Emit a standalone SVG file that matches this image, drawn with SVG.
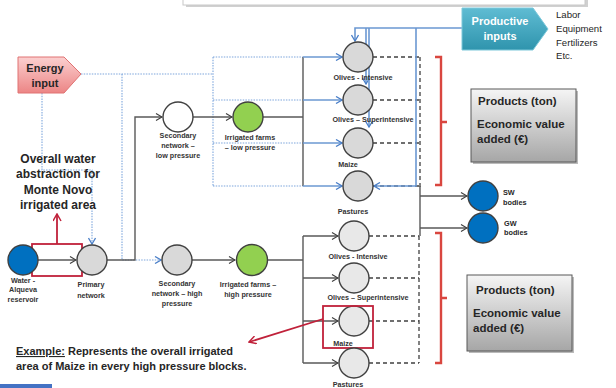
<svg xmlns="http://www.w3.org/2000/svg" width="616" height="388" viewBox="0 0 616 388">
<defs>
<style>
.t{font-family:"Liberation Sans",Arial,sans-serif;fill:#262626}
.lb{font-size:7.2px;font-weight:bold;fill:#333;text-anchor:middle}
.big{font-size:12px;font-weight:bold;text-anchor:middle}
.prod{font-size:11.5px;font-weight:bold}
.g{fill:none;stroke:#595959;stroke-width:1.4}
.gd{fill:none;stroke:#404040;stroke-width:1.3;stroke-dasharray:4 3}
.bd{fill:none;stroke:#7ea6dc;stroke-width:1.1;stroke-dasharray:1.5 1.2}
.bs{fill:none;stroke:#6b98d2;stroke-width:1.6}
.red{fill:none;stroke:#c0213a;stroke-width:1.8}
.br{fill:none;stroke:#d9463f;stroke-width:2.4}
.c{stroke:#404040;stroke-width:1.4}
</style>
<marker id="ag" markerWidth="8" markerHeight="8" refX="7" refY="4" orient="auto" markerUnits="userSpaceOnUse"><path d="M1,0.5 L7,4 L1,7.5" fill="none" stroke="#404040" stroke-width="1.2"/></marker>
<marker id="ab" markerWidth="8" markerHeight="8" refX="7" refY="4" orient="auto" markerUnits="userSpaceOnUse"><path d="M1,0.5 L7,4 L1,7.5" fill="none" stroke="#4a7fc8" stroke-width="1.3"/></marker>
<marker id="ar" markerWidth="9" markerHeight="9" refX="8" refY="4.5" orient="auto" markerUnits="userSpaceOnUse"><path d="M1,0.5 L8,4.5 L1,8.5" fill="none" stroke="#c0213a" stroke-width="1.5"/></marker>
<linearGradient id="gp" x1="0" y1="0" x2="0" y2="1"><stop offset="0" stop-color="#fbd0d0"/><stop offset="1" stop-color="#ec8585"/></linearGradient>
<linearGradient id="gt" x1="0" y1="0" x2="0" y2="1"><stop offset="0" stop-color="#5fbcd3"/><stop offset="1" stop-color="#2f94ad"/></linearGradient>
<linearGradient id="gg" x1="0" y1="0" x2="0" y2="1"><stop offset="0" stop-color="#f5f5f5"/><stop offset="1" stop-color="#a6a6a6"/></linearGradient>
</defs>
<rect width="616" height="388" fill="#fff"/>

<g id="topbox">
<rect x="186" y="-8" width="402" height="15" fill="#b0b0b0" opacity="0.6"/>
<rect x="183" y="-10" width="402" height="15" fill="#fff" stroke="#c8c8c8" stroke-width="1"/>
</g>

<g id="connectors">
<path class="bd" d="M81,74 H213 M213,57 V186 M213,57 H303 M213,100 H303 M213,143 H303 M213,186 H303"/>
<path class="bd" d="M122,74 V260 H161" marker-end="url(#ab)"/>
<path class="bd" d="M42,93 V170 H92 V244" marker-end="url(#ab)"/>
<path class="g" d="M38,260 H76" marker-end="url(#ag)"/>
<path class="g" d="M107,260 H135 V117 H162" marker-end="url(#ag)"/>
<path class="g" d="M193,117 H232" marker-end="url(#ag)"/>
<path class="g" d="M192,260 H235" marker-end="url(#ag)"/>
<path class="g" d="M263,117 H303 M303,57 V186"/>
<path class="g" d="M267,260 H303 M303,236 V363"/>
<path class="bs" d="M303,57 H342" marker-end="url(#ab)" stroke="#7a95b8"/>
<path class="bs" d="M303,100 H342" marker-end="url(#ab)" stroke="#7a95b8"/>
<path class="bs" d="M303,143 H342" marker-end="url(#ab)" stroke="#7a95b8"/>
<path class="bs" d="M303,186 H342" marker-end="url(#ab)" stroke="#7a95b8"/>
<path class="g" d="M303,236 H338" marker-end="url(#ag)"/>
<path class="g" d="M303,278 H338" marker-end="url(#ag)"/>
<path class="g" d="M303,321 H338" marker-end="url(#ag)"/>
<path class="g" d="M303,363 H338" marker-end="url(#ag)"/>
<path class="gd" d="M373,57 H420 M373,100 H420 M373,143 H420 M373,186 H420 M420,57 V190"/>
<path class="gd" d="M369,236 H419 M369,278 H419 M369,321 H419 M369,363 H419 M419,236 V363"/>
<path class="g" d="M420,186 V236" stroke-width="2.2"/>
<path class="g" d="M420,196 H467" marker-end="url(#ag)"/>
<path class="g" d="M420,228 H467" marker-end="url(#ag)"/>
<path class="bs" d="M462,28 H355 V41" marker-end="url(#ab)"/>
<path class="bs" d="M366,28 V84" marker-end="url(#ab)"/>
<path class="bs" d="M369,28 V127" marker-end="url(#ab)"/>
<path class="bs" d="M416,28 V186 H374" marker-end="url(#ab)"/>
<path class="red" d="M57,244 V214" marker-end="url(#ar)"/>
<path class="red" d="M323,319 L249,342" marker-end="url(#ar)"/>
</g>

<g id="energy">
<polygon points="18,57 64,57 81,74 64,93 18,93" fill="url(#gp)" stroke="#e07272" stroke-width="1"/>
<text class="t" x="45" y="71.5" font-size="11" font-weight="bold" text-anchor="middle">Energy</text>
<text class="t" x="45" y="86.5" font-size="11" font-weight="bold" text-anchor="middle">input</text>
</g>

<g id="productive">
<polygon points="462,8 533,8 548,29 533,50 462,50" fill="url(#gt)" stroke="#7cc8da" stroke-width="1"/>
<text class="t" x="500" y="24.5" font-size="11" font-weight="bold" text-anchor="middle" style="fill:#fff">Productive</text>
<text class="t" x="500" y="40" font-size="11" font-weight="bold" text-anchor="middle" style="fill:#fff">inputs</text>
<text class="t" x="556" y="17.5" font-size="9.6">Labor</text>
<text class="t" x="556" y="31.5" font-size="9.6">Equipment</text>
<text class="t" x="556" y="45.5" font-size="9.6">Fertilizers</text>
<text class="t" x="556" y="58.5" font-size="9.6">Etc.</text>
</g>

<g id="overall">
<text class="t big" x="58" y="162.5">Overall water</text>
<text class="t big" x="58" y="178">abstraction for</text>
<text class="t big" x="58" y="193.5">Monte Novo</text>
<text class="t big" x="58" y="209">irrigated area</text>
<rect x="32" y="244" width="50" height="32" class="red"/>
</g>

<g id="water">
<circle cx="23" cy="260" r="15" fill="#0070c0" class="c"/>
<text class="t lb" x="23" y="282.5">Water -</text>
<text class="t lb" x="23" y="291.5">Alqueva</text>
<text class="t lb" x="23" y="301.5">reservoir</text>
</g>
<g id="primary">
<circle cx="92" cy="260" r="15" fill="#d9d9d9" class="c"/>
<text class="t lb" x="91" y="286.5">Primary</text>
<text class="t lb" x="91" y="297.5">network</text>
</g>
<g id="sec-low">
<circle cx="178" cy="117" r="15" fill="#fff" class="c"/>
<text class="t lb" x="178" y="137.5">Secondary</text>
<text class="t lb" x="178" y="147.5">network –</text>
<text class="t lb" x="178" y="158">low pressure</text>
</g>
<g id="irr-low">
<circle cx="248" cy="117" r="15" fill="#92d050" class="c"/>
<text class="t lb" x="250" y="139.5">Irrigated farms</text>
<text class="t lb" x="250" y="150">– low pressure</text>
</g>
<g id="sec-high">
<circle cx="177" cy="260" r="15" fill="#d9d9d9" class="c"/>
<text class="t lb" x="177" y="285.5">Secondary</text>
<text class="t lb" x="177" y="295.5">network – high</text>
<text class="t lb" x="177" y="305.5">pressure</text>
</g>
<g id="irr-high">
<circle cx="252" cy="260" r="15.5" fill="#92d050" class="c"/>
<text class="t lb" x="248" y="286.5">Irrigated farms –</text>
<text class="t lb" x="248" y="296.5">high pressure</text>
</g>

<g id="low-olives-int"><circle cx="358" cy="57" r="15" fill="#d9d9d9" class="c"/><text class="t lb" x="363" y="79.5">Olives - Intensive</text></g>
<g id="low-olives-sup"><circle cx="358" cy="100" r="15" fill="#d9d9d9" class="c"/><text class="t lb" x="373" y="121.5">Olives – Superintensive</text></g>
<g id="low-maize"><circle cx="358" cy="143" r="15" fill="#d9d9d9" class="c"/><text class="t lb" x="348" y="166.5">Maize</text></g>
<g id="low-pastures"><circle cx="358" cy="186" r="15" fill="#d9d9d9" class="c"/><text class="t lb" x="353" y="213.5">Pastures</text></g>

<g id="high-olives-int"><circle cx="354" cy="236" r="15" fill="#e8e8e8" class="c"/><text class="t lb" x="358" y="258.5">Olives - Intensive</text></g>
<g id="high-olives-sup"><circle cx="354" cy="278" r="15" fill="#e8e8e8" class="c"/><text class="t lb" x="368" y="299.5">Olives – Superintensive</text></g>
<g id="high-maize"><circle cx="354" cy="321" r="15" fill="#e8e8e8" class="c"/><text class="t lb" x="343" y="345.5">Maize</text><rect x="323" y="306" width="50" height="42" class="red"/></g>
<g id="high-pastures"><circle cx="354" cy="363" r="15" fill="#e8e8e8" class="c"/><text class="t lb" x="348" y="386.5">Pastures</text></g>

<g id="sw">
<circle cx="483" cy="196" r="15" fill="#0070c0" class="c"/>
<text class="t" x="503" y="195" font-size="7.3" font-weight="bold">SW</text>
<text class="t" x="503" y="204.5" font-size="7.3" font-weight="bold">bodies</text>
</g>
<g id="gw">
<circle cx="483" cy="228" r="15" fill="#0070c0" class="c"/>
<text class="t" x="504" y="225.5" font-size="7.3" font-weight="bold">GW</text>
<text class="t" x="504" y="235" font-size="7.3" font-weight="bold">bodies</text>
</g>

<g id="brackets">
<path class="br" d="M435,57 H441 V185 H435 M441,122 H447"/>
<path class="br" d="M435,233 H441 V363 H435 M441,298 H447"/>
</g>

<g id="products-low">
<rect x="473" y="91" width="105" height="73" fill="#8c8c8c" opacity="0.6"/>
<rect x="471" y="89" width="105" height="73" fill="url(#gg)" stroke="#595959" stroke-width="1"/>
<text class="t prod" x="478" y="105">Products (ton)</text>
<text class="t prod" x="477" y="128">Economic value</text>
<text class="t prod" x="477" y="143">added (€)</text>
</g>
<g id="products-high">
<rect x="469" y="277" width="105" height="76" fill="#8c8c8c" opacity="0.6"/>
<rect x="467" y="275" width="105" height="76" fill="url(#gg)" stroke="#595959" stroke-width="1"/>
<text class="t prod" x="476" y="294">Products (ton)</text>
<text class="t prod" x="473" y="317">Economic value</text>
<text class="t prod" x="473" y="332">added (€)</text>
</g>

<g id="example">
<text class="t" x="16" y="355" font-size="11" font-weight="bold"><tspan text-decoration="underline">Example:</tspan> Represents the overall irrigated</text>
<text class="t" x="16" y="370" font-size="11" font-weight="bold">area of Maize in every high pressure blocks.</text>
</g>
<rect x="0" y="384" width="52" height="4" fill="#4472c4"/>
</svg>
